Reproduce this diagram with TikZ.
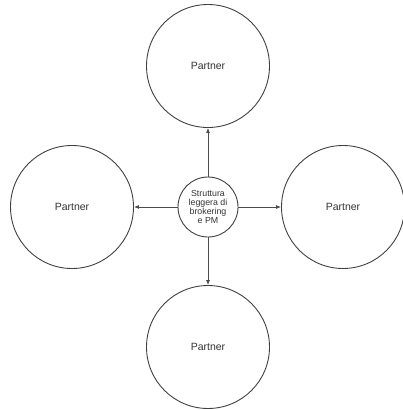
\documentclass[tikz,border=0pt]{standalone}
\usepackage{fontspec}
\setmainfont{Liberation Sans}
\usetikzlibrary{arrows.meta}
\begin{document}
\begin{tikzpicture}[x=1pt,y=-1pt,
  partner/.style={circle,draw=black!75,line width=0.9pt,inner sep=0pt,minimum size=123pt,font=\fontsize{10.5}{12}\selectfont,text=black!80},
  hub/.style={circle,draw=black!75,line width=0.9pt,inner sep=0pt,minimum size=60pt,align=center,font=\fontsize{8.8}{9.3}\selectfont,text=black!80},
  link/.style={draw=black!70,line width=0.8pt,-{Latex[length=5pt,width=4pt]}}]
\useasboundingbox (0,0) rectangle (403,410);
\node[hub] (c) at (208,207) {Struttura\\leggera di\\brokering\\e PM};
\node[partner] (t) at (208,66) {Partner};
\node[partner] (b) at (208,347) {Partner};
\node[partner] (l) at (72,207) {Partner};
\node[partner] (r) at (343,207) {Partner};
\draw[link] (c.north) -- (t.south);
\draw[link] (c.south) -- (b.north);
\draw[link] (c.west) -- (l.east);
\draw[link] (c.east) -- (r.west);
\end{tikzpicture}
\end{document}
